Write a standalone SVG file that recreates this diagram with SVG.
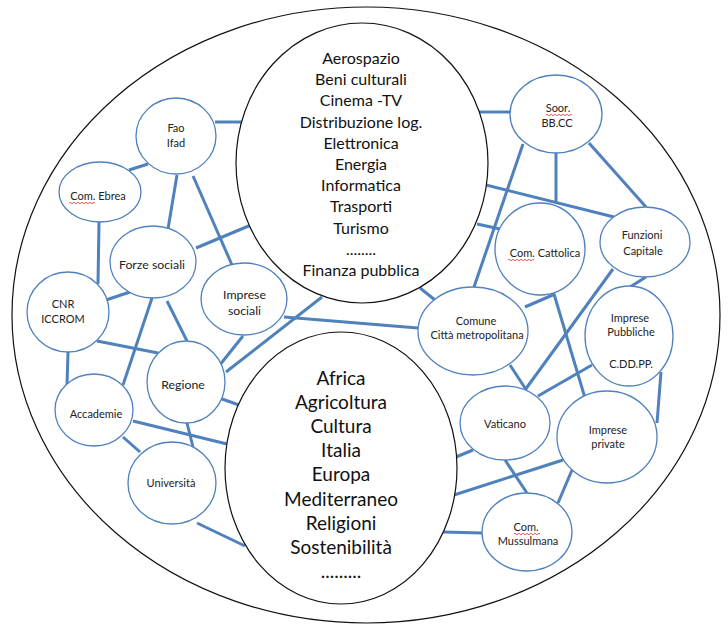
<svg xmlns="http://www.w3.org/2000/svg" xmlns:xlink="http://www.w3.org/1999/xlink" width="728" height="628" viewBox="0 0 728 628">
<style>
.big{fill:#fff;stroke:#111;stroke-width:1.2}
.node{fill:#fff;stroke:#4F81BD;stroke-width:1.3}
.conn line{stroke:#4F81BD;stroke-width:3;stroke-linecap:butt}
text{font-family:Lato,"Liberation Sans",sans-serif;text-anchor:middle}
.t{font-size:11px;fill:#222}
.tm{font-size:12.3px;fill:#222}
.ts{font-size:16px;fill:#111}
.tb{font-size:19px;fill:#111}
.sq{fill:none;stroke:#e0302a;stroke-width:0.8}
</style>
<defs>
<path id="sq" d="M0 0 q1 -1.4 2 0 t2 0 t2 0 t2 0 t2 0 t2 0 t2 0 t2 0 t2 0 t2 0 t2 0 t2 0 t2 0"/>
</defs>
<rect width="728" height="628" fill="#fff"/>
<ellipse id="outer" class="big" cx="366" cy="315" rx="354" ry="308"/>
<g id="connectors" class="conn">
<line x1="215" y1="122" x2="243" y2="122"/>
<line x1="148" y1="164" x2="129" y2="170"/>
<line x1="177" y1="175" x2="168" y2="229"/>
<line x1="193" y1="176" x2="232" y2="265"/>
<line x1="196" y1="248" x2="251" y2="225"/>
<line x1="99" y1="222" x2="98" y2="284"/>
<line x1="106" y1="300" x2="130" y2="292"/>
<line x1="152" y1="298" x2="123" y2="385"/>
<line x1="167" y1="301" x2="187" y2="341"/>
<line x1="97" y1="341" x2="158" y2="353"/>
<line x1="68" y1="352" x2="67" y2="386"/>
<line x1="243" y1="336" x2="219" y2="366"/>
<line x1="226" y1="372" x2="322" y2="297"/>
<line x1="222" y1="399" x2="239" y2="405"/>
<line x1="133" y1="421" x2="227" y2="444"/>
<line x1="123" y1="437" x2="140" y2="452"/>
<line x1="187" y1="423" x2="193" y2="447"/>
<line x1="197" y1="523" x2="245" y2="546"/>
<line x1="284" y1="317" x2="418" y2="328"/>
<line x1="478" y1="112" x2="510" y2="112"/>
<line x1="556" y1="153" x2="556" y2="202"/>
<line x1="589" y1="143" x2="646" y2="207"/>
<line x1="523" y1="144" x2="474" y2="287"/>
<line x1="486" y1="185" x2="614" y2="217"/>
<line x1="477" y1="224" x2="500" y2="229"/>
<line x1="420" y1="288" x2="435" y2="300"/>
<line x1="525" y1="307" x2="555" y2="294"/>
<line x1="554" y1="294" x2="585" y2="398"/>
<line x1="613" y1="269" x2="525" y2="390"/>
<line x1="510" y1="365" x2="525" y2="388"/>
<line x1="592" y1="365" x2="538" y2="396"/>
<line x1="646" y1="277" x2="630" y2="287"/>
<line x1="661" y1="372" x2="657" y2="423"/>
<line x1="473" y1="450" x2="456" y2="457"/>
<line x1="563" y1="460" x2="454" y2="495"/>
<line x1="505" y1="460" x2="527" y2="493"/>
<line x1="572" y1="470" x2="558" y2="503"/>
<line x1="482" y1="533" x2="443" y2="532"/>
</g>
<g id="settori">
<ellipse class="big" cx="362" cy="163" rx="126" ry="140"/>
<text class="ts" x="361" y="64">Aerospazio</text>
<text class="ts" x="361" y="85.2">Beni culturali</text>
<text class="ts" x="361" y="106.4">Cinema -TV</text>
<text class="ts" x="361" y="127.6">Distribuzione log.</text>
<text class="ts" x="361" y="148.8">Elettronica</text>
<text class="ts" x="361" y="170">Energia</text>
<text class="ts" x="361" y="191.2">Informatica</text>
<text class="ts" x="361" y="212.4">Trasporti</text>
<text class="ts" x="361" y="233.6">Turismo</text>
<text class="ts" x="361" y="254.8">........</text>
<text class="ts" x="361" y="276">Finanza pubblica</text>
</g>
<g id="temi">
<ellipse class="big" cx="341" cy="468" rx="116" ry="136"/>
<text class="tb" x="341" y="384.5">Africa</text>
<text class="tb" x="341" y="408.7">Agricoltura</text>
<text class="tb" x="341" y="432.9">Cultura</text>
<text class="tb" x="341" y="457.1">Italia</text>
<text class="tb" x="341" y="481.3">Europa</text>
<text class="tb" x="341" y="505.5">Mediterraneo</text>
<text class="tb" x="341" y="529.7">Religioni</text>
<text class="tb" x="341" y="553.9">Sostenibilità</text>
<text class="tb" x="341" y="578">.........</text>
</g>
<g id="fao"><ellipse class="node" cx="176" cy="136" rx="40" ry="38"/><text class="t" x="176" y="132">Fao</text><text class="t" x="176" y="147">Ifad</text></g>
<g id="ebrea"><ellipse class="node" cx="100" cy="192" rx="41" ry="30"/><text class="t" x="98" y="200">Com. Ebrea</text><use href="#sq" class="sq" x="69" y="203"/></g>
<g id="forze"><ellipse class="node" cx="153" cy="262" rx="43" ry="36"/><text class="tm" x="152" y="269">Forze sociali</text></g>
<g id="impsoc"><ellipse class="node" cx="244" cy="299" rx="43" ry="36"/><text class="tm" x="244.5" y="299">Imprese</text><text class="tm" x="244.5" y="315">sociali</text></g>
<g id="cnr"><ellipse class="node" cx="68" cy="312" rx="41" ry="40"/><text class="t" x="63" y="308">CNR</text><text class="t" x="63" y="323">ICCROM</text></g>
<g id="regione"><ellipse class="node" cx="186" cy="382" rx="39" ry="41"/><text class="tm" x="183" y="389">Regione</text></g>
<g id="accademie"><ellipse class="node" cx="94" cy="410" rx="39" ry="36"/><text class="t" x="96" y="418">Accademie</text></g>
<g id="universita"><ellipse class="node" cx="172" cy="483" rx="44" ry="41"/><text class="t" x="171" y="487">Università</text></g>
<g id="soor"><ellipse class="node" cx="556" cy="114" rx="46" ry="39"/><text class="t" x="558" y="112">Soor.</text><text class="t" x="557" y="127">BB.CC</text><use href="#sq" class="sq" x="546" y="115"/></g>
<g id="cattolica"><ellipse class="node" cx="540" cy="249" rx="45" ry="46"/><text class="t" x="545" y="257">Com. Cattolica</text><use href="#sq" class="sq" x="508" y="260"/></g>
<g id="funzioni"><ellipse class="node" cx="645" cy="242" rx="45" ry="35"/><text class="t" x="642" y="239">Funzioni</text><text class="t" x="643" y="255">Capitale</text></g>
<g id="comune"><ellipse class="node" cx="473" cy="331" rx="55" ry="44"/><text class="t" x="476" y="325">Comune</text><text class="t" x="477" y="339">Città metropolitana</text></g>
<g id="imppub"><ellipse class="node" cx="629" cy="336" rx="44" ry="50"/><text class="t" x="630" y="322">Imprese</text><text class="t" x="631" y="336">Pubbliche</text><text class="t" x="631" y="368">C.DD.PP.</text></g>
<g id="vaticano"><ellipse class="node" cx="505" cy="423" rx="45" ry="37"/><text class="t" x="505" y="428">Vaticano</text></g>
<g id="imppriv"><ellipse class="node" cx="607" cy="437" rx="50" ry="46"/><text class="t" x="608" y="434">Imprese</text><text class="t" x="608" y="448">private</text></g>
<g id="mussulmana"><ellipse class="node" cx="527" cy="532" rx="45" ry="39"/><text class="t" x="526" y="531">Com.</text><text class="t" x="528" y="545">Mussulmana</text><use href="#sq" class="sq" x="514" y="534"/></g>
</svg>
